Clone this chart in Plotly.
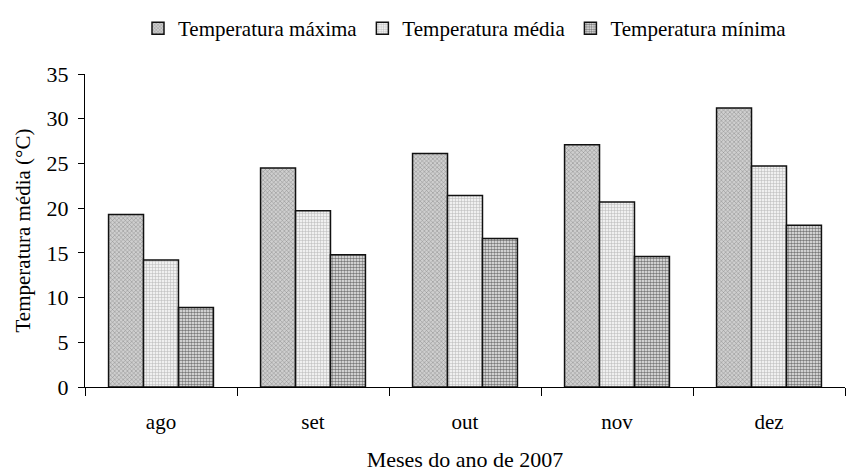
import plotly.graph_objects as go

months = ["ago", "set", "out", "nov", "dez"]
temp_max = [19.3, 24.5, 26.1, 27.1, 31.2]
temp_med = [14.2, 19.7, 21.4, 20.7, 24.7]
temp_min = [8.9, 14.8, 16.6, 14.6, 18.1]

y_ticks = [0, 5, 10, 15, 20, 25, 30, 35]

FONT = "Liberation Serif"

series = [
    ("Temperatura máxima", temp_max, dict(shape="x", bgcolor="#cfcfcf", fgcolor="#8a8a8a", size=3, solidity=0.3)),
    ("Temperatura média", temp_med, dict(shape="+", bgcolor="#f0f0f0", fgcolor="#b8b8b8", size=3, solidity=0.3)),
    ("Temperatura mínima", temp_min, dict(shape=".", bgcolor="#f4f4f4", fgcolor="#7a7a7a", size=3, solidity=0.55)),
]

fig = go.Figure()
for name, vals, pat in series:
    fig.add_trace(go.Bar(
        x=months,
        y=vals,
        name=name,
        marker=dict(
            color=pat["bgcolor"],
            pattern=dict(shape=pat["shape"], bgcolor=pat["bgcolor"], fgcolor=pat["fgcolor"],
                         size=pat["size"], solidity=pat["solidity"], fillmode="replace"),
            line=dict(color="#111111", width=1.5),
        ),
    ))

# the page body adds an 8px offset, margins below account for it
fig.update_layout(
    width=854,
    height=475,
    barmode="group",
    bargap=0.31,
    bargroupgap=0,
    paper_bgcolor="white",
    plot_bgcolor="white",
    font=dict(family=FONT, size=22, color="black"),
    margin=dict(l=77, r=17, t=66, b=96),
    legend=dict(
        orientation="h",
        x=0.5,
        xanchor="center",
        yref="container",
        y=1.0,
        yanchor="top",
        font=dict(family=FONT, size=21, color="black"),
        itemwidth=30,
        bgcolor="rgba(0,0,0,0)",
    ),
    xaxis=dict(
        showline=True,
        linecolor="black",
        linewidth=1,
        ticks="outside",
        tickson="boundaries",
        ticklen=8,
        tickcolor="black",
        ticklabelstandoff=16,
        tickfont=dict(family=FONT, size=21),
        title=dict(text="Meses do ano de 2007", font=dict(family=FONT, size=22), standoff=18),
        showgrid=False,
    ),
    yaxis=dict(
        range=[0, 35],
        tickvals=y_ticks,
        showline=True,
        linecolor="black",
        linewidth=1,
        ticks="outside",
        ticklen=6,
        tickcolor="black",
        ticklabelstandoff=5,
        tickfont=dict(family=FONT, size=22),
        title=dict(text="Temperatura média (°C)", font=dict(family=FONT, size=21), standoff=10),
        showgrid=False,
        zeroline=False,
    ),
)

fig.write_html("out.html")
